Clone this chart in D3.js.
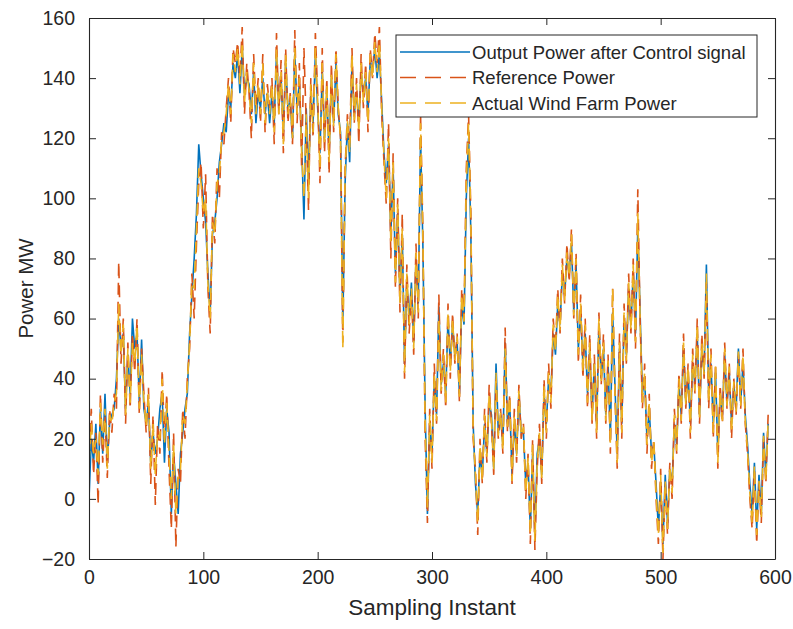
<!DOCTYPE html>
<html>
<head>
<meta charset="utf-8">
<script src="https://cdn.jsdelivr.net/npm/d3@7"></script>
<style>
  html, body { margin: 0; padding: 0; background: #ffffff; }
  svg { display: block; }
  text { font-family: "Liberation Sans", Arial, sans-serif; fill: #262626; }
</style>
</head>
<body>
<svg id="chart" width="793" height="629"></svg>
<script>
// ---- data (one value every 2 sampling instants) ----
const sampleStep = 2;
const xTicks = [0, 100, 200, 300, 400, 500, 600];
const yTicks = [-20, 0, 20, 40, 60, 80, 100, 120, 140, 160];
const seriesNames = ["Output Power after Control signal", "Reference Power", "Actual Wind Farm Power"];

const outputPower = [
  0, 20, 12, 25, 5,   30, 15, 35, 12, 25,   28, 30, 40, 60, 50,   55, 30, 48, 35, 60,
  50, 55, 32, 53, 30,   25, 32, 12, 22, 15,   20, 30, 35, 12, 30,   22, -5, 15, 5, -5,
  15, 22, 30, 35, 55,   68, 80, 95, 118, 108,   100, 92, 75, 62, 88,   92, 100, 112, 118, 125,
  122, 135, 130, 145, 140,   148, 135, 150, 135, 140,   138, 128, 142, 125, 135,   130, 140, 128, 135, 125,
  135, 125, 148, 130, 140,   122, 145, 130, 132, 120,   148, 130, 138, 118, 93,   130, 105, 135, 125, 148,
  130, 115, 142, 120, 135,   115, 140, 125, 145, 128,   122, 58, 105, 125, 112,   145, 128, 135, 125, 142,
  135, 140, 128, 146, 142,   150, 140, 148, 132, 115,   105, 118, 88, 110, 75,   95, 68, 88, 45, 72,
  60, 72, 52, 80, 65,   120, 85, 30, -5, 25,   15, 40, 28, 64, 38,   45, 35, 60, 45, 58,
  48, 52, 35, 65, 58,   100, 120, 88, 25, 5,   -5, 15, 8, 25, 15,   32, 28, 10, 45, 22,
  28, 18, 52, 25, 32,   8, 25, 15, 35, 22,   22, 5, 12, -10, 15,   -12, 15, 20, 8, 35,
  25, 40, 35, 55, 48,   65, 58, 75, 68, 80,   75, 85, 62, 78, 50,   62, 45, 55, 35, 50,
  28, 45, 25, 58, 40,   50, 28, 45, 20, 62,   38, 15, 50, 25, 60,   48, 70, 58, 75, 55,
  90, 62, 35, 40, 20,   30, 15, 18, 5, -10,   5, -15, 8, -8, 10,   5, 25, 18, 38, 28,
  50, 32, 42, 25, 45,   38, 55, 28, 50, 42,   78, 35, 45, 25, 42,   15, 35, 28, 48, 32,
  42, 25, 38, 30, 50,   32, 45, 28, 18, 5,   -5, 12, -10, 8, -5,   22, 8, 25
];

const referencePower = [
  15, 30, 8, 22, -2,   35, 12, 28, 7, 30,   22, 35, 30, 79, 45,   60, 25, 52, 30, 55,
  42, 60, 28, 50, 35,   22, 37, 5, 28, -2,   25, 15, 43, 20, 35,   10, -10, 22, -16, 10,
  5, 30, 20, 40, 50,   75, 60, 85, 105, 112,   90, 108, 70, 55, 95,   85, 110, 100, 122, 118,
  130, 140, 125, 150, 145,   152, 140, 157, 128, 145,   135, 120, 148, 130, 140,   125, 148, 122, 138, 130,
  140, 118, 155, 128, 146,   115, 150, 125, 135, 118,   156, 125, 145, 110, 150,   125, 96, 140, 120, 155,
  135, 105, 150, 115, 140,   108, 145, 122, 150, 130,   120, 52, 110, 128, 118,   150, 125, 140, 118, 148,
  130, 145, 122, 150, 140,   155, 145, 157, 128, 112,   98, 125, 80, 115, 70,   100, 62, 95, 40, 78,
  55, 68, 48, 85, 60,   128, 90, 20, -8, 30,   10, 45, 25, 68, 35,   50, 30, 65, 40, 62,
  45, 55, 32, 70, 60,   110, 128, 95, 20, 10,   -12, 20, 5, 30, 12,   38, 25, 8, 40, 20,
  30, 15, 57, 22, 35,   5, 30, 12, 38, 20,   25, 0, 15, -15, 20,   -17, 10, 25, 5, 40,
  20, 45, 30, 60, 50,   70, 55, 80, 65, 85,   72, 90, 60, 82, 45,   68, 40, 60, 30, 55,
  25, 48, 20, 62, 38,   55, 25, 48, 15, 70,   35, 10, 55, 20, 65,   45, 75, 55, 80, 50,
  103, 60, 30, 45, 15,   35, 10, 20, 0, -15,   10, -20, 5, -12, 12,   0, 30, 15, 42, 25,
  55, 30, 45, 20, 50,   35, 60, 25, 55, 40,   72, 30, 50, 20, 45,   10, 38, 25, 52, 30,
  45, 20, 40, 28, 48,   30, 50, 25, 15, 0,   -10, 10, -15, 5, -8,   20, 5, 28
];

const actualWindFarmPower = [
  12, 25, 15, 20, 8,   32, 18, 30, 10, 28,   25, 32, 35, 65, 48,   58, 28, 50, 32, 52,
  45, 58, 30, 48, 32,   24, 35, 10, 25, 8,   22, 20, 40, 18, 32,   15, 0, 18, -5, 8,
  10, 28, 25, 38, 52,   72, 70, 90, 110, 105,   95, 100, 72, 60, 92,   88, 105, 108, 120, 122,
  128, 138, 128, 148, 142,   150, 138, 152, 132, 142,   136, 125, 145, 128, 138,   128, 145, 125, 136, 128,
  138, 122, 150, 128, 142,   118, 148, 128, 134, 120,   150, 128, 140, 115, 100,   128, 100, 138, 122, 150,
  132, 110, 145, 118, 138,   112, 142, 124, 148, 130,   120, 50, 108, 126, 115,   148, 126, 138, 122, 145,
  132, 142, 125, 148, 140,   152, 142, 152, 130, 114,   100, 120, 85, 112, 72,   98, 65, 90, 42, 75,
  58, 70, 50, 82, 62,   125, 88, 25, -3, 28,   12, 42, 26, 60, 36,   48, 32, 62, 42, 60,
  46, 54, 34, 68, 59,   105, 125, 92, 22, 8,   -8, 18, 6, 28, 14,   35, 26, 9, 42, 21,
  29, 16, 50, 24, 34,   6, 28, 14, 36, 21,   24, 2, 14, -12, 18,   -14, 12, 22, 6, 38,
  22, 42, 32, 58, 49,   68, 56, 78, 66, 82,   74, 88, 61, 80, 48,   65, 42, 58, 32, 52,
  26, 46, 22, 60, 39,   52, 26, 46, 18, 70,   36, 12, 52, 22, 62,   46, 72, 56, 78, 52,
  95, 60, 32, 42, 18,   32, 12, 19, 2, -12,   8, -18, 6, -10, 11,   2, 28, 16, 40, 26,
  52, 31, 44, 22, 48,   36, 58, 26, 52, 41,   75, 32, 48, 22, 44,   12, 36, 26, 50, 31,
  44, 22, 39, 29, 49,   31, 48, 26, 16, 2,   -8, 11, -12, 6, -6,   21, 6, 26
];

// ---- layout ----
const svg = d3.select("#chart");
const margin = { left: 89, right: 18, top: 18, bottom: 70 };
const W = 793, H = 629;
const x = d3.scaleLinear().domain([0, 600]).range([margin.left, W - margin.right]);
const y = d3.scaleLinear().domain([-20, 160]).range([H - margin.bottom, margin.top]);
const axisColor = "#262626";

const colors = ["#0072BD", "#D95319", "#EDB120"];
const dashes = [null, "12,7", "12,7"];
const allSeries = [outputPower, referencePower, actualWindFarmPower];

svg.append("defs").append("clipPath").attr("id", "clip")
  .append("rect")
  .attr("x", x(0)).attr("y", y(160))
  .attr("width", x(600) - x(0)).attr("height", y(-20) - y(160));

const line = d3.line()
  .x((d, i) => x(i * sampleStep))
  .y(d => y(d));

const plot = svg.append("g").attr("clip-path", "url(#clip)");
allSeries.forEach((s, k) => {
  plot.append("path")
    .datum(s)
    .attr("fill", "none")
    .attr("stroke", colors[k])
    .attr("stroke-width", 1.6)
    .attr("stroke-dasharray", dashes[k])
    .attr("d", line);
});

// ---- axes (box with inward ticks on all sides) ----
const tickLen = 7;
const fontTick = 19.5;

const gX = svg.append("g").attr("transform", `translate(0,${y(-20)})`)
  .call(d3.axisBottom(x).tickValues(xTicks).tickSizeInner(-tickLen).tickSizeOuter(0).tickPadding(11));
const gXt = svg.append("g").attr("transform", `translate(0,${y(160)})`)
  .call(d3.axisTop(x).tickValues(xTicks).tickSizeInner(-tickLen).tickSizeOuter(0).tickFormat(""));
const gY = svg.append("g").attr("transform", `translate(${x(0)},0)`)
  .call(d3.axisLeft(y).tickValues(yTicks).tickSizeInner(-tickLen).tickSizeOuter(0).tickPadding(14));
const gYr = svg.append("g").attr("transform", `translate(${x(600)},0)`)
  .call(d3.axisRight(y).tickValues(yTicks).tickSizeInner(-tickLen).tickSizeOuter(0).tickFormat(""));

[gX, gXt, gY, gYr].forEach(g => {
  g.select(".domain").attr("stroke", axisColor).attr("stroke-width", 1.1);
  g.selectAll(".tick line").attr("stroke", axisColor).attr("stroke-width", 1);
  g.selectAll(".tick text")
    .attr("font-family", "'Liberation Sans', Arial, sans-serif")
    .attr("font-size", fontTick)
    .attr("fill", axisColor);
});

// ---- axis labels ----
svg.append("text")
  .attr("x", (x(0) + x(600)) / 2)
  .attr("y", 615)
  .attr("text-anchor", "middle")
  .attr("font-size", 22.5)
  .text("Sampling Instant");

svg.append("text")
  .attr("transform", `translate(33,${(y(-20) + y(160)) / 2}) rotate(-90)`)
  .attr("text-anchor", "middle")
  .attr("font-size", 20.5)
  .text("Power MW");

// ---- legend ----
const lg = svg.append("g");
const lgX = 396, lgY = 35, lgW = 361, lgH = 82;
lg.append("rect")
  .attr("x", lgX).attr("y", lgY).attr("width", lgW).attr("height", lgH)
  .attr("fill", "#ffffff").attr("stroke", axisColor).attr("stroke-width", 1);
const rowY = d3.scalePoint().domain(seriesNames).range([lgY + 17, lgY + 68]);
seriesNames.forEach((name, k) => {
  lg.append("line")
    .attr("x1", lgX + 4).attr("x2", lgX + 74)
    .attr("y1", rowY(name)).attr("y2", rowY(name))
    .attr("stroke", colors[k]).attr("stroke-width", 1.5)
    .attr("stroke-dasharray", dashes[k] ? "16,9" : null);
  lg.append("text")
    .attr("x", lgX + 76)
    .attr("y", rowY(name) + 6.5)
    .attr("font-size", 18.5)
    .text(name);
});
</script>
</body>
</html>
